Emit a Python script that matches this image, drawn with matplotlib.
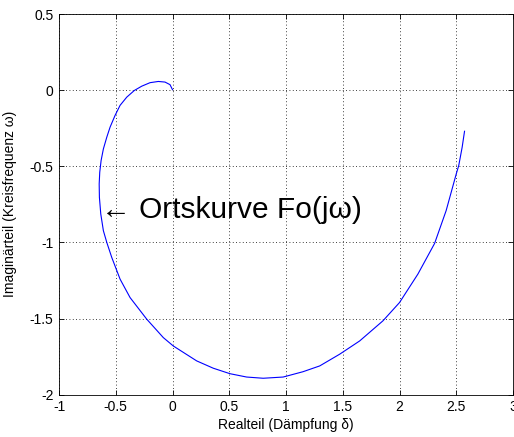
import matplotlib
matplotlib.use('Agg')
import matplotlib.pyplot as plt

plt.rcParams['font.family'] = ['Liberation Sans', 'DejaVu Sans']

# Ortskurve Fo(jw): Realteil / Imaginaerteil
re_part = [2.573, 2.552, 2.522, 2.50, 2.411, 2.309, 2.162, 2.0, 1.854, 1.649,
           1.473, 1.297, 1.150, 0.975, 0.799, 0.653, 0.506, 0.359, 0.213,
           0.007, -0.081, -0.227, -0.374, -0.462, -0.535, -0.579, -0.609,
           -0.632, -0.644, -0.646, -0.641, -0.629, -0.609, -0.579, -0.55,
           -0.506, -0.462, -0.403, -0.336, -0.271, -0.198, -0.125, -0.066,
           -0.022, 0.0]
im_part = [-0.27, -0.375, -0.495, -0.55, -0.791, -1.007, -1.208, -1.395,
           -1.515, -1.647, -1.734, -1.811, -1.849, -1.884, -1.892, -1.884,
           -1.862, -1.826, -1.778, -1.68, -1.625, -1.504, -1.362, -1.241,
           -1.099, -1.0, -0.923, -0.813, -0.704, -0.616, -0.539, -0.462,
           -0.386, -0.309, -0.243, -0.166, -0.10, -0.046, -0.002, 0.026,
           0.049, 0.057, 0.053, 0.036, 0.003]

x_ticks = [-1, -0.5, 0, 0.5, 1, 1.5, 2, 2.5, 3]
x_ticklabels = ['-1', '-0.5', '0', '0.5', '1', '1.5', '2', '2.5', '3']
y_ticks = [-2, -1.5, -1, -0.5, 0, 0.5]
y_ticklabels = ['-2', '-1.5', '-1', '-0.5', '0', '0.5']

fig = plt.figure(figsize=(5.14, 4.37), dpi=100)
ax = fig.add_axes([59 / 514, 1 - 394.7 / 437, 454 / 514, 380.7 / 437])

ax.plot(re_part, im_part, color='#0000ff', linewidth=0.8)

ax.text(-0.63, -0.84, '\u2190 Ortskurve Fo(j\u03c9)', fontsize=21.5,
        ha='left', va='baseline')

ax.set_xlim(-1, 3)
ax.set_ylim(-2, 0.5)
ax.set_xticks(x_ticks)
ax.set_xticklabels(x_ticklabels)
ax.set_yticks(y_ticks)
ax.set_yticklabels(y_ticklabels)
ax.tick_params(direction='in', length=3.5, width=0.6, top=True, right=True,
               labelsize=10, pad=4)
for sp in ax.spines.values():
    sp.set_linewidth(0.6)
ax.grid(True, color='black', linestyle=(0, (1, 3)), linewidth=0.6)

ax.set_xlabel('Realteil (D\u00e4mpfung \u03b4)', fontsize=10)
ax.set_ylabel('Imagin\u00e4rteil (Kreisfrequenz \u03c9)', fontsize=10)
ax.xaxis.set_label_coords(0.5, -0.06)
ax.yaxis.set_label_coords(-0.0925, 0.5)

fig.savefig('out.png', dpi=100, facecolor='white')
